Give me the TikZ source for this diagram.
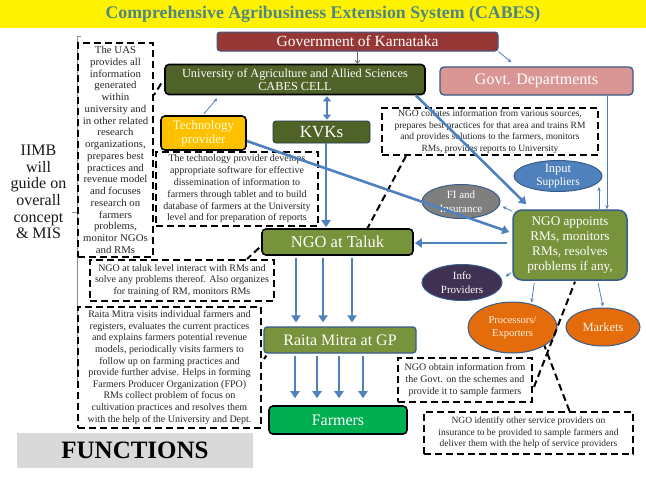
\documentclass[tikz,border=0pt]{standalone}
\usepackage{fontspec}
\setmainfont{Liberation Serif}
\newfontfamily\widefont[FakeStretch=1.04]{Liberation Serif}
\usetikzlibrary{shapes.geometric,arrows.meta,calc}
\definecolor{titlec}{RGB}{79,134,134}
\definecolor{govred}{RGB}{149,55,53}
\definecolor{darkol}{RGB}{79,98,40}
\definecolor{olive}{RGB}{119,147,60}
\definecolor{pinkd}{RGB}{217,150,148}
\definecolor{techy}{RGB}{255,192,0}
\definecolor{farmg}{RGB}{0,176,80}
\definecolor{bordblue}{RGB}{56,93,138}
\definecolor{arrblue}{RGB}{79,129,189}
\definecolor{inblue}{RGB}{79,129,189}
\definecolor{figray}{RGB}{127,127,127}
\definecolor{infop}{RGB}{64,49,82}
\definecolor{orng}{RGB}{228,108,10}
\definecolor{funcg}{RGB}{217,217,217}
\newcommand\fsz[2]{\fontsize{#1}{#2}\selectfont}
\begin{document}
\begin{tikzpicture}[x=1pt,y=-1pt,
  cbox/.style={rectangle, rounded corners=3pt, inner sep=0pt, align=center, text=white},
  dbox/.style={rectangle, draw=black, dash pattern=on 7pt off 4pt, line width=2pt, inner sep=0pt, align=center, text=black!85},
  ell/.style={ellipse, inner sep=0pt, draw=bordblue, line width=1pt},
  bigarr/.style={draw=arrblue, line width=2.6pt, -{Triangle[length=7pt,width=9pt]}},
  dblarr/.style={draw=arrblue, line width=2.6pt, {Triangle[length=5pt,width=8pt]}-{Triangle[length=5pt,width=8pt]}},
  thinarr/.style={draw=arrblue, line width=0.8pt, -{Stealth[length=4pt,width=3.5pt]}},
  grayarr/.style={draw=black!60, line width=0.7pt, -{Straight Barb[length=3pt,width=5pt]}},
  dline/.style={draw=black, line width=2pt, dash pattern=on 7pt off 4pt}
]
\useasboundingbox (0,0) rectangle (646,488);
\fill[white] (0,0) rectangle (646,488);
% title
\node[rectangle, fill=yellow, minimum width=646pt, minimum height=28pt, inner sep=0pt, text=titlec, font=\fsz{17.8}{20}\bfseries] (title) at (323,14) {Comprehensive Agribusiness Extension System (CABES)};
% bracket line
\draw[black!45, line width=0.6pt] (81,36) -- (77,36) -- (77,383);
\draw[black!45, line width=0.6pt] (72,212) -- (77,212);
% left text
\node[align=center, text=black!90, font=\fsz{16}{16.7}] (iimb) at (38.5,192) {IIMB\\will\\guide on\\overall\\concept\\\& MIS};
% dashed boxes
\node[dbox, minimum width=75pt, minimum height=214pt, font=\widefont\fsz{10.4}{11.75}] (leftbox) at (115.5,150) {The UAS\\provides all\\information\\generated\\within\\university and\\in other related\\research\\organizations,\\prepares best\\practices and\\revenue model\\and focuses\\research on\\farmers\\problems,\\monitor NGOs\\and RMs};
\node[dbox, minimum width=162pt, minimum height=74pt, font=\fsz{10}{11.8}] (techbox) at (237,189) {The technology provider develops\\appropriate software for effective\\dissemination of information to\\farmers through tablet and to build\\database of farmers at the University\\level and for preparation of reports};
\node[dbox, minimum width=184pt, minimum height=41pt, font=\fsz{10}{11.8}] (taluktext) at (182,280.5) {NGO at taluk level interact with RMs and\\solve any problems thereof. Also organizes\\for training of RM, monitors RMs};
\node[dbox, minimum width=183pt, minimum height=121pt, font=\fsz{10}{11.6}] (raitatext) at (169.5,367.5) {Raita Mitra visits individual farmers and\\registers, evaluates the current practices\\and explains farmers potential revenue\\models, periodically visits farmers to\\follow up on farming practices and\\provide further advise. Helps in forming\\Farmers Producer Organization (FPO)\\RMs collect problem of focus on\\cultivation practices and resolves them\\with the help of the University and Dept.};
\node[dbox, minimum width=216pt, minimum height=47pt, font=\fsz{9.5}{11.5}] (collates) at (490,131.5) {NGO collates information from various sources,\\prepares best practices for that area and trains RM\\and provides solutions to the farmers, monitors\\RMs, provides reports to University};
\node[dbox, minimum width=134pt, minimum height=44pt, font=\fsz{10}{11.8}] (obtain) at (465,380) {NGO obtain information from\\the Govt. on the schemes and\\provide it to sample farmers};
\node[dbox, minimum width=209pt, minimum height=42pt, font=\fsz{9.5}{11.6}] (identify) at (528.5,433) {NGO identify other service providers on\\insurance to be provided to sample farmers and\\deliver them with the help of service providers};
% hidden callout end behind processors
\coordinate (pbehind) at (543,342);
\draw[dline] ($(identify.north)+(41,0)$) -- (pbehind);
% colored boxes
\node[cbox, fill=govred, draw=bordblue, line width=1pt, minimum width=281pt, minimum height=19pt, font=\fsz{15.5}{17}] (gov) at (357.5,41.5) {Government of Karnataka};
\node[cbox, rounded corners=4pt, fill=darkol, draw=black, line width=1.6pt, minimum width=260pt, minimum height=30pt, font=\fsz{12.3}{13}] (uni) at (295,79.5) {University of Agriculture and Allied Sciences\\CABES CELL};
\node[cbox, rounded corners=4pt, fill=pinkd, draw=bordblue, line width=1.3pt, minimum width=193pt, minimum height=28pt, font=\fsz{16}{18}] (govdep) at (536.5,81) {Govt. Departments};
\node[cbox, rounded corners=4pt, fill=techy, draw=black, line width=1.6pt, minimum width=85pt, minimum height=34pt, text={yellow!15}, font=\fsz{13}{14}] (tech) at (203.5,133) {Technology\\provider};
\node[cbox, fill=darkol, draw=bordblue!60!black, line width=0.8pt, minimum width=97pt, minimum height=22pt, font=\fsz{17}{18}] (kvk) at (321.5,132) {KVKs};
\node[cbox, rounded corners=4pt, fill=olive, draw=black, line width=1.6pt, minimum width=151pt, minimum height=26pt, font=\fsz{16.5}{20}] (ngotaluk) at (337.5,242) {NGO at Taluk};
\node[cbox, fill=olive, draw=bordblue, line width=1.2pt, minimum width=152pt, minimum height=26pt, font=\fsz{16}{19}] (raita) at (340,340) {Raita Mitra at GP};
\node[cbox, rounded corners=4pt, fill=farmg, draw=black, line width=1.6pt, minimum width=138pt, minimum height=28pt, font=\fsz{16}{19}] (farmers) at (338,420) {Farmers};
\node[rectangle, fill=funcg, inner sep=0pt, minimum width=236pt, minimum height=35pt, font=\fsz{25}{27}\bfseries] (functions) at (135,450.5) {FUNCTIONS};
\node[cbox, rounded corners=9pt, fill=olive, draw=bordblue, line width=1.5pt, minimum width=114pt, minimum height=70pt, font=\fsz{13.2}{15}] (appoint) at (570,245) {NGO appoints\\RMs, monitors\\RMs, resolves\\problems if any,};
% ellipses
\node[ell, fill=inblue, minimum width=88pt, minimum height=31pt, label={[text=white, align=center, font=\fsz{11.5}{13.5}]center:{\fsz{12.5}{13.5}Input}\\Suppliers}] (inputs) at (558,176) {};
\node[ell, fill=figray, minimum width=78pt, minimum height=34pt, label={[text=white, align=center, font=\fsz{11}{14}]center:FI and\\Insurance}] (fi) at (461,201.5) {};
\node[ell, fill=infop, minimum width=80pt, minimum height=36pt, label={[text=white, align=center, font=\fsz{11}{14}]center:Info\\Providers}] (info) at (462,282.5) {};
\node[ell, fill=orng, minimum width=89pt, minimum height=51pt, label={[text={orange!10}, align=center, font=\fsz{10.5}{13.5}]center:Processors/\\Exporters}] (proc) at (512.5,327.5) {};
\node[ell, fill=orng, minimum width=74pt, minimum height=38pt, label={[text={orange!10}, align=center, font=\fsz{12.5}{14}]center:Markets}] (markets) at (603,327) {};
% dashed callouts
\draw[dline] ($(uni.west)+(-3,4)$) -- ($(leftbox.north east)+(0,53)$);
\draw[dline] ($(collates.south west)+(25,0)$) -- ($(ngotaluk.north)+(30,0)$);
\draw[dline] ($(ngotaluk.south west)+(-2,-8)$) -- ($(taluktext.north east)+(-28,0)$);
\draw[dline] ($(raita.south west)+(3,2)$) -- ($(raitatext.north east)+(2,53)$);
\draw[dline] ($(obtain.east)+(1,7)$) -- ($(appoint.south)+(5,1)$);
% thin arrows
\draw[grayarr] (gov.south) -- (uni.north -| gov.south);
\draw[thinarr] (gov.south east) -- ($(govdep.north west)+(72,-4)$);
\draw[thinarr] ($(tech.north)+(0,-1)$) -- ($(uni.south west)+(53,3)$);
\draw[thinarr] ($(govdep.south)+(70.5,0)$) -- ($(appoint.north)+(37,0)$);
\draw[thinarr] ($(appoint.north)+(29,0)$) -- ($(inputs.south)+(41,-5)$);
\draw[thinarr] ($(appoint.north west)+(0,2)$) -- ($(fi.east)+(2,5)$);
\draw[thinarr] ($(appoint.south west)+(-1,-8)$) -- ($(info.east)+(3,-6)$);
\draw[thinarr] ($(appoint.south west)+(22,2)$) -- ($(proc.north)+(19,1)$);
\draw[thinarr] ($(appoint.south)+(28,2)$) -- ($(markets.north)+(0,-1)$);
% thick arrows
\draw[dblarr] ($(uni.south)+(32,1)$) -- ($(kvk.north)+(5.5,-1)$);
\draw[bigarr] ($(kvk.south)+(4.5,0)$) -- ($(ngotaluk.north)+(-11.5,-1)$);
\draw[bigarr] ($(appoint.west)+(-5,-2)$) -- ($(ngotaluk.east)+(1,1)$);
\draw[bigarr] ($(tech.east)+(0,8)$) -- ($(appoint.west)+(-3,-13)$);
\draw[bigarr] ($(uni.south east)+(-10,0)$) -- ($(appoint.north west)+(14,-5)$);
\foreach \dx in {-41.5,-14.5,14.5}
  \draw[bigarr] ($(ngotaluk.south)+(\dx,2)$) -- ($(raita.north)+(\dx-2.5,-4)$);
\foreach \dx in {-45,-23,-1,23}
  \draw[bigarr] ($(raita.south)+(\dx,2)$) -- ($(farmers.north)+(\dx+2,-7)$);
\end{tikzpicture}
\end{document}
